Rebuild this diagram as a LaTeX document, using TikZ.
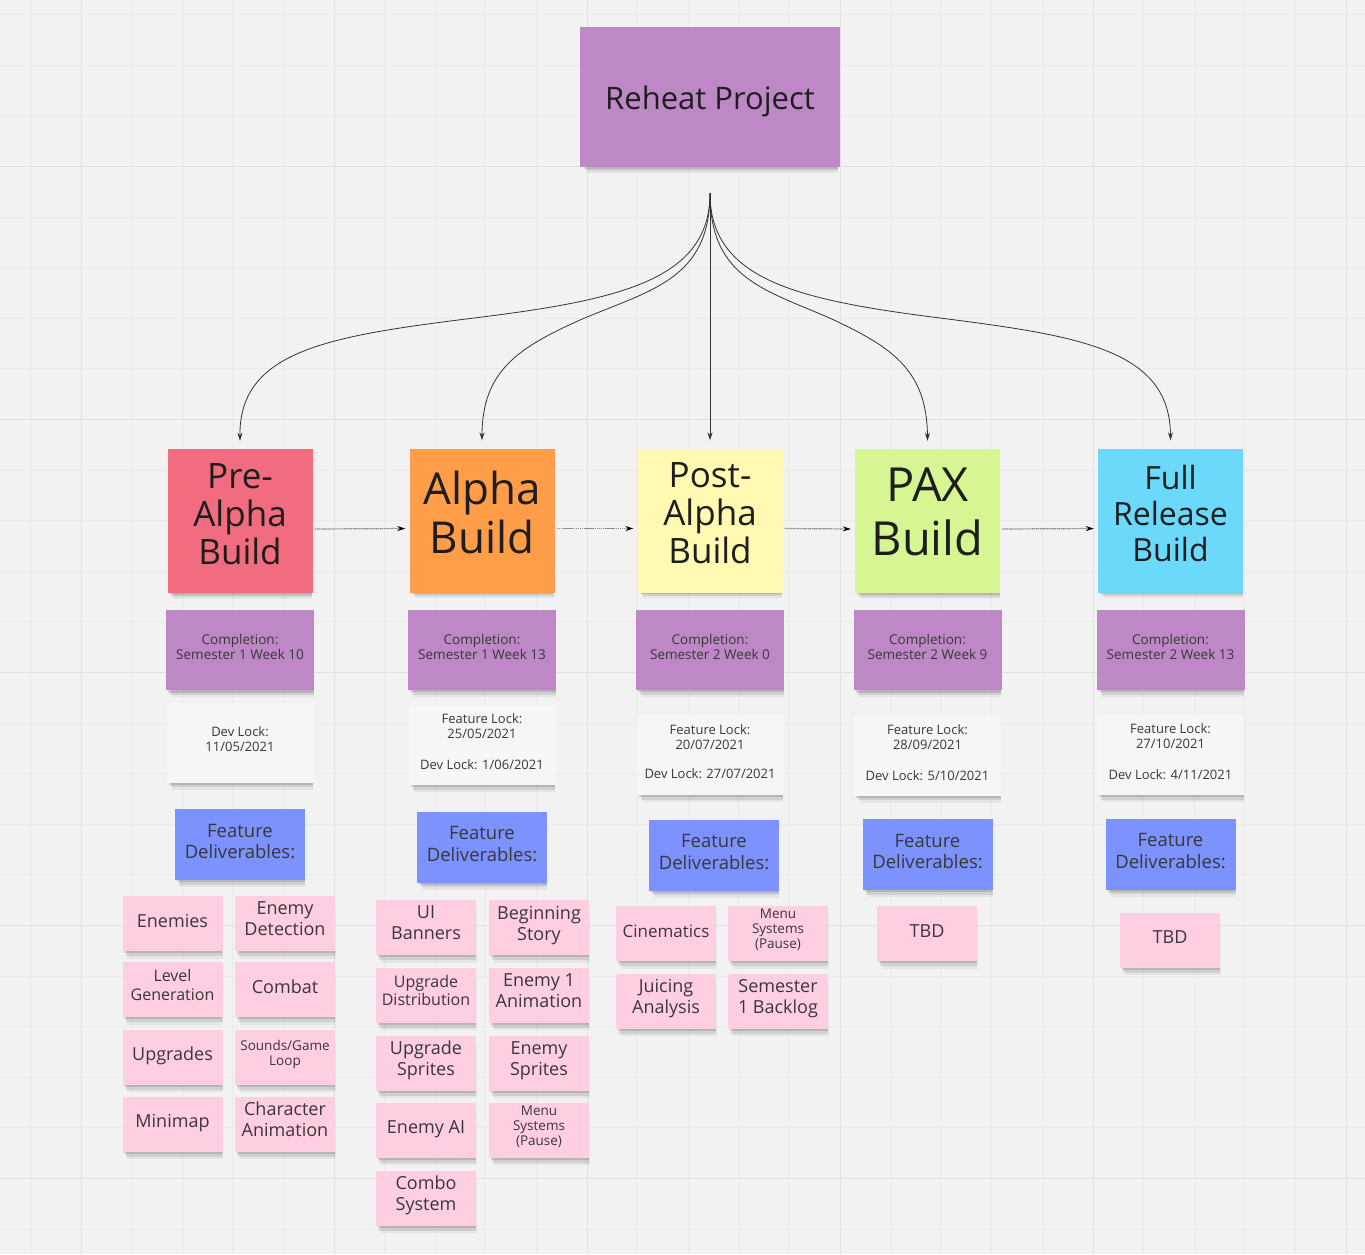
\documentclass[tikz,border=0pt]{standalone}
\usepackage{fontspec}
\setmainfont{Open Sans}
\usetikzlibrary{arrows.meta, positioning, shadows}

\definecolor{bg}{HTML}{F2F2F2}
\definecolor{gridminor}{HTML}{EAEAEA}
\definecolor{gridmajor}{HTML}{E1E1E1}
\definecolor{ink}{HTML}{1E1E1E}
\definecolor{softink}{HTML}{383838}
\definecolor{lilac}{HTML}{BE88C7}
\definecolor{prered}{HTML}{F16C7F}
\definecolor{alphaorange}{HTML}{FF9D48}
\definecolor{postyellow}{HTML}{FFF9B1}
\definecolor{paxgreen}{HTML}{D5F692}
\definecolor{fullcyan}{HTML}{6CD8FA}
\definecolor{lockwhite}{HTML}{F5F6F8}
\definecolor{featblue}{HTML}{7B92FF}
\definecolor{taskpink}{HTML}{FFCEE0}

\newcommand{\setfs}[2]{\fontsize{#1}{#2}\selectfont}

\tikzset{%
	sticky/.style={rectangle, inner sep=2pt, align=center, text=ink,
		general shadow={fill=black, opacity=.05, shadow scale=.96, shadow xshift=3pt, shadow yshift=-9pt},
		general shadow={fill=black, opacity=.09, shadow scale=.97, shadow xshift=2pt, shadow yshift=-6pt},
		general shadow={fill=black, opacity=.13, shadow scale=.98, shadow xshift=1pt, shadow yshift=-3pt}},
	evened/.style 2 args={execute at begin node=\rule{0pt}{#1}, execute at end node=\rule[-#2]{0pt}{#2}},
	root/.style={sticky, evened={33pt}{8.4pt}, fill=lilac, minimum width=260pt, minimum height=140pt, font=\setfs{31}{36}},
	build/.style={sticky, minimum width=145pt, minimum height=144pt},
	done/.style={sticky, evened={12.5pt}{7pt}, fill=lilac, minimum width=148pt, minimum height=80pt, text=softink, font=\setfs{13.5}{15}},
	lock/.style={sticky, evened={12pt}{7.5pt}, fill=lockwhite, minimum width=147pt, minimum height=80pt, text=softink, font=\setfs{13}{15}},
	feat/.style={sticky, evened={16pt}{7pt}, fill=featblue, minimum width=130pt, minimum height=71pt, text=softink, font=\setfs{18.5}{21.5}},
	task/.style={sticky, evened={16.5pt}{9pt}, fill=taskpink, minimum width=100pt, minimum height=55pt, text=softink, font=\setfs{18}{21}},
	small/.style={font=\setfs{16}{18.5}},
	tiny/.style={font=\setfs{13.5}{15}},
	branch/.style={draw=black!80, line width=.8pt, -{Stealth[length=8pt, width=5pt]}},
	flow/.style={draw=black!45, line width=1.2pt, dash pattern=on 1.5pt off .6pt,
		-{Stealth[length=8pt, width=5pt, color=black]}, shorten <=2pt, shorten >=4pt},
	gridline/.style={draw=gridminor, line width=.8pt},
	gridbold/.style={draw=gridmajor, line width=1.2pt}
}

\begin{document}
\begin{tikzpicture}[x=1pt, y=-1pt]
	\useasboundingbox (0,0) rectangle (1365,1254);
	\fill[bg] (0,0) rectangle (1365,1254);
	\foreach \i in {0,...,26} \draw[gridline] ({30.3+50.6*\i},0) -- ++(0,1254);
	\foreach \j in {0,...,24} \draw[gridline] (0,{14.6+50.6*\j}) -- ++(1365,0);
	\foreach \i in {0,...,5} \draw[gridbold] ({81.3+253*\i},0) -- ++(0,1254);
	\foreach \j in {0,...,4} \draw[gridbold] (0,{166.4+253*\j}) -- ++(1365,0);

	\node [root] (root) at (710,97) {Reheat Project};
	\coordinate (hub) at ([yshift=-26pt]root.south);

	%builds
	\node [build, evened={31pt}{14.5pt}, fill=prered, font=\setfs{35}{38}] (pre) at (240,521) {Pre-\\Alpha\\Build};
	\node [build, evened={38pt}{17.3pt}, fill=alphaorange, font=\setfs{44}{49}] (alpha) at (482,520.5) {Alpha\\Build};
	\node [build, evened={31pt}{14.5pt}, fill=postyellow, font=\setfs{35}{38}] (post) at (710,520.5) {Post-\\Alpha\\Build};
	\node [build, evened={38pt}{19.4pt}, fill=paxgreen, font=\setfs{47}{54}] (pax) at (927.5,521) {PAX\\Build};
	\node [build, evened={26pt}{13.6pt}, fill=fullcyan, font=\setfs{32}{36}] (full) at (1170.5,520.5) {Full\\Release\\Build};

	%completion
	\node [done, below=17pt of pre] (pre-done) {Completion:\\Semester 1 Week 10};
	\node [done, below=17pt of alpha] (alpha-done) {Completion:\\Semester 1 Week 13};
	\node [done, below=17pt of post] (post-done) {Completion:\\Semester 2 Week 0};
	\node [done, below=17pt of pax] (pax-done) {Completion:\\Semester 2 Week 9};
	\node [done, below=17pt of full] (full-done) {Completion:\\Semester 2 Week 13};

	%locks
	\node [lock, below=12pt of pre-done] (pre-lock) {Dev Lock:\\11/05/2021};
	\node [lock, below=15pt of alpha-done] (alpha-lock) {Feature Lock:\\25/05/2021\\[16pt]Dev Lock: 1/06/2021};
	\node [lock, below=25pt of post-done] (post-lock) {Feature Lock:\\20/07/2021\\[14pt]Dev Lock: 27/07/2021};
	\node [lock, below=25pt of pax-done] (pax-lock) {Feature Lock:\\28/09/2021\\[16pt]Dev Lock: 5/10/2021};
	\node [lock, below=25pt of full-done] (full-lock) {Feature Lock:\\27/10/2021\\[16pt]Dev Lock: 4/11/2021};

	%deliverables
	\node [feat, below=26pt of pre-lock] (pre-feat) {Feature\\Deliverables:};
	\node [feat, below=26pt of alpha-lock] (alpha-feat) {Feature\\Deliverables:};
	\node [feat, below=24pt of post-lock, xshift=4pt] (post-feat) {Feature\\Deliverables:};
	\node [feat, below=23pt of pax-lock] (pax-feat) {Feature\\Deliverables:};
	\node [feat, below=23pt of full-lock] (full-feat) {Feature\\Deliverables:};

	%pre-alpha tasks
	\node [task] (enemies) at (172.5,923.5) {Enemies};
	\node [task] (detection) at (285,923.5) {Enemy\\Detection};
	\node [task, small] (levelgen) at (172.5,989.5) {Level\\Generation};
	\node [task] (combat) at (285,989.5) {Combat};
	\node [task] (upgrades) at (172.5,1057) {Upgrades};
	\node [task, tiny] (sounds) at (285,1057) {Sounds/Game\\Loop};
	\node [task] (minimap) at (172.5,1124) {Minimap};
	\node [task] (charanim) at (285,1124) {Character\\Animation};

	%alpha tasks
	\node [task] (banners) at (426,927.5) {UI\\Banners};
	\node [task] (story) at (539,927.5) {Beginning\\Story};
	\node [task, small] (distrib) at (426,995) {Upgrade\\Distribution};
	\node [task] (enemyanim) at (539,995) {Enemy 1\\Animation};
	\node [task] (upsprites) at (426,1063) {Upgrade\\Sprites};
	\node [task] (ensprites) at (539,1063) {Enemy\\Sprites};
	\node [task] (enemyai) at (426,1130) {Enemy AI};
	\node [task, tiny] (menu1) at (539,1130) {Menu\\Systems\\(Pause)};
	\node [task] (combo) at (426,1198) {Combo\\System};

	%post-alpha tasks
	\node [task, font=\setfs{17}{20}] (cinematics) at (666,933.5) {Cinematics};
	\node [task, tiny] (menu2) at (778,933.5) {Menu\\Systems\\(Pause)};
	\node [task] (juicing) at (666,1001) {Juicing\\Analysis};
	\node [task] (backlog) at (778,1001) {Semester\\1 Backlog};

	\node [task] (pax-tbd) at (927,933.5) {TBD};
	\node [task] (full-tbd) at (1170,940) {TBD};

	%branches
	\draw [branch] (hub) .. controls (710,280) and (620,300) .. (474,318)
		.. controls (330,336) and (239,350) .. ([yshift=8pt]pre.north);
	\draw [branch] (hub) .. controls (710,280) and (650,290) .. (580,320)
		.. controls (520,347) and (482,370) .. ([yshift=8pt]alpha.north);
	\draw [branch] (hub) -- ([yshift=8pt]post.north);
	\draw [branch] (hub) .. controls (710,280) and (767,290) .. (834,320)
		.. controls (891,347) and (927,370) .. ([yshift=8pt]pax.north);
	\draw [branch] (hub) .. controls (710,280) and (798,300) .. (940,318)
		.. controls (1081,336) and (1170,350) .. ([yshift=8pt]full.north);

	%timeline
	\draw [flow] ([yshift=-8pt]pre.east) -- ([yshift=-8pt]alpha.west);
	\draw [flow] ([yshift=-8pt]alpha.east) -- ([yshift=-8pt]post.west);
	\draw [flow] ([yshift=-8pt]post.east) -- ([yshift=-8pt]pax.west);
	\draw [flow] ([yshift=-8pt]pax.east) -- ([yshift=-8pt]full.west);
\end{tikzpicture}
\end{document}
